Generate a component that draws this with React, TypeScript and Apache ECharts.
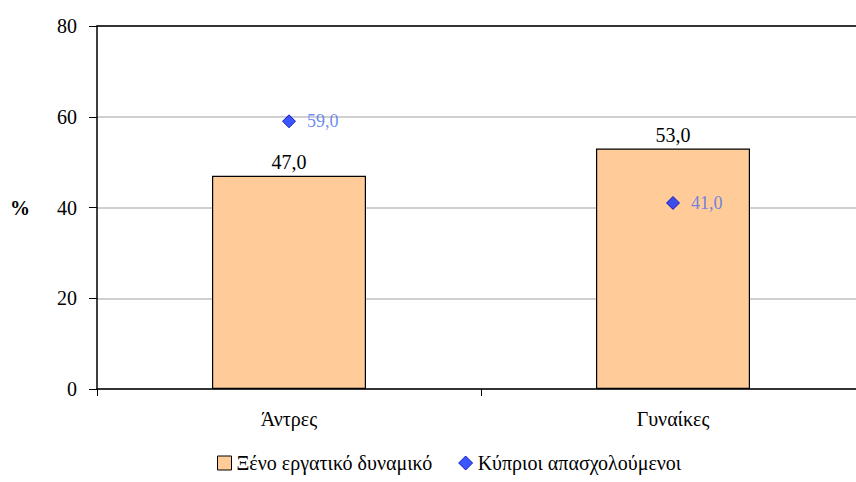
import React, { useEffect, useRef } from "react";
import * as echarts from "echarts";

const categories = ["Άντρες", "Γυναίκες"];
const foreignLabour = [47.0, 53.0];
const cypriotEmployed = [59.0, 41.0];
const seriesNames = ["Ξένο εργατικό δυναμικό", "Κύπριοι απασχολούμενοι"];

const fmt = (v: number) => v.toFixed(1).replace(".", ",");
const FONT = "serif";

export default function App() {
  const ref = useRef<HTMLDivElement>(null);
  useEffect(() => {
    document.body.style.margin = "0";
    const chart = echarts.init(ref.current!, null, { renderer: "svg" });
    chart.setOption({
      animation: false,
      backgroundColor: "#ffffff",
      textStyle: { fontFamily: FONT },
      grid: { left: 97, top: 26, width: 768, height: 363, containLabel: false, outerBoundsMode: "none" },
      legend: {
        bottom: 4,
        left: 212,
        itemGap: 26,
        itemWidth: 14,
        itemHeight: 14,
        textStyle: { fontFamily: FONT, fontSize: 20, color: "#000" },
        data: [
          { name: seriesNames[0], icon: "rect", itemStyle: { borderColor: "#000", borderWidth: 1 } },
          { name: seriesNames[1], icon: "diamond", itemStyle: { borderWidth: 1 } },
        ],
      },
      xAxis: [
        {
          type: "category",
          data: categories,
          position: "bottom",
          axisLine: { lineStyle: { color: "#000", width: 1.5 } },
          axisTick: { show: true, length: 7, lineStyle: { color: "#000" } },
          axisLabel: { color: "#000", fontSize: 20, fontFamily: FONT, margin: 20 },
        },
        {
          type: "category",
          data: categories,
          position: "top",
          axisLine: { lineStyle: { color: "#000", width: 1.5 } },
          axisTick: { show: false },
          axisLabel: { show: false },
        },
      ],
      yAxis: {
        type: "value",
        min: 0,
        max: 80,
        interval: 20,
        name: "%",
        nameLocation: "middle",
        nameRotate: 0,
        nameGap: 67,
        nameTextStyle: { fontFamily: FONT, fontSize: 20, fontWeight: "bold", color: "#000" },
        axisLine: { show: true, lineStyle: { color: "#000", width: 1.5 } },
        axisTick: { show: true, length: 8, lineStyle: { color: "#000" } },
        axisLabel: { color: "#000", fontSize: 20, fontFamily: FONT, margin: 20 },
        splitLine: { show: true, lineStyle: { color: "#c0c0c0", width: 1.5 } },
      },
      series: [
        {
          name: seriesNames[0],
          type: "bar",
          data: foreignLabour,
          barWidth: 154,
          itemStyle: { color: "#FFCC99", borderColor: "#000", borderWidth: 1.2 },
          label: {
            show: true,
            position: "top",
            distance: 4,
            color: "#000",
            fontSize: 20,
            fontFamily: FONT,
            formatter: (p: any) => fmt(p.value),
          },
        },
        {
          name: seriesNames[1],
          type: "scatter",
          data: cypriotEmployed,
          symbol: "diamond",
          symbolSize: [13, 13],
          itemStyle: { color: "#0a2cff", borderColor: "#0000b0", borderWidth: 1 },
          label: {
            show: true,
            position: "right",
            distance: 11,
            color: "#4a6cf0",
            fontSize: 18,
            fontFamily: FONT,
            formatter: (p: any) => fmt(p.value),
          },
        },
      ],
    });
    return () => {
      chart.dispose();
    };
  }, []);
  return (
    <div
      ref={ref}
      style={{ position: "absolute", left: 0, top: 0, width: 856, height: 482 }}
    />
  );
}
